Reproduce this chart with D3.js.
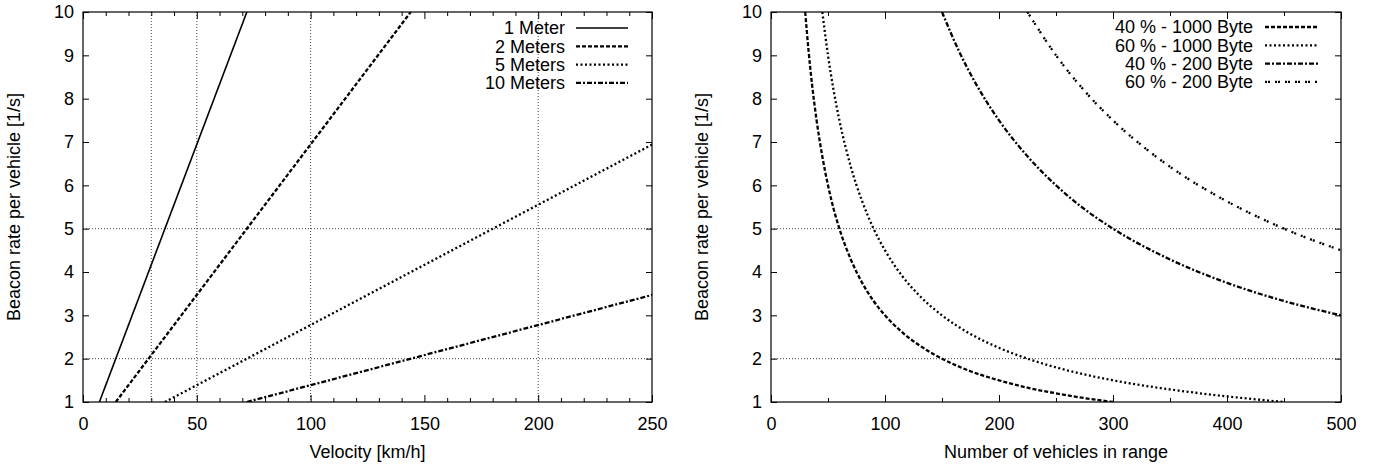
<!DOCTYPE html>
<html>
<head>
<meta charset="utf-8">
<script src="https://cdn.jsdelivr.net/npm/d3@7"></script>
<style>
  body { margin: 0; background: #fff; }
  svg text { font-family: "Liberation Sans", Arial, sans-serif; font-size: 18px; fill: #000; }
</style>
</head>
<body>
<div id="chart"></div>
<script>
// ---- data ----
var velocityTicks = [0, 50, 100, 150, 200, 250];
var vehicleTicks = [0, 100, 200, 300, 400, 500];
var rateTicks = [1, 2, 3, 4, 5, 6, 7, 8, 9, 10];

// left panel: beacon rate vs velocity, straight lines (endpoints)
var meterNames = ["1 Meter", "2 Meters", "5 Meters", "10 Meters"];
var meter1 = [[7.2, 1], [72, 10]];
var meter2 = [[14.4, 1], [144, 10]];
var meter5 = [[36, 1], [250, 6.94]];
var meter10 = [[72, 1], [250, 3.47]];

// right panel: beacon rate vs number of vehicles
var loadNames = ["40 % - 1000 Byte", "60 % - 1000 Byte", "40 % - 200 Byte", "60 % - 200 Byte"];
var n40_1000 = [30, 33, 36, 40, 45, 50, 55, 60, 70, 80, 90, 100, 115, 130, 150, 175, 200, 225, 250, 275, 300];
var r40_1000 = [10, 9.09, 8.33, 7.5, 6.67, 6, 5.45, 5, 4.29, 3.75, 3.33, 3, 2.61, 2.31, 2, 1.71, 1.5, 1.33, 1.2, 1.09, 1];
var n60_1000 = [45, 50, 55, 60, 70, 80, 90, 100, 115, 130, 150, 175, 200, 225, 250, 300, 350, 400, 450];
var r60_1000 = [10, 9, 8.18, 7.5, 6.43, 5.63, 5, 4.5, 3.91, 3.46, 3, 2.57, 2.25, 2, 1.8, 1.5, 1.29, 1.13, 1];
var n40_200 = [150, 165, 180, 200, 225, 250, 275, 300, 350, 400, 450, 500];
var r40_200 = [10, 9.09, 8.33, 7.5, 6.67, 6, 5.45, 5, 4.29, 3.75, 3.33, 3];
var n60_200 = [225, 250, 275, 300, 330, 360, 400, 450, 500];
var r60_200 = [10, 9, 8.18, 7.5, 6.82, 6.25, 5.63, 5, 4.5];

var velGridX = [30, 50, 100, 200];
var rateGridY = [2, 5];

// ---- styles ----
var dashes = ["none", "4,2", "2,2.5", "5,2,2,2"];
var dashesR = ["4,2", "2,2.5", "5,2,2,2", "2,1,2,5"];
var widths = [1.6, 2.3, 2.3, 2.3];

var W = 1376, H = 464;
var plotTop = 12, plotBottom = 402;

var svg = d3.select("#chart").append("svg")
  .attr("width", W)
  .attr("height", H);

function panel(opts) {
  var x = d3.scaleLinear().domain(opts.xDomain).range([opts.x0, opts.x1]);
  var y = d3.scaleLinear().domain([1, 10]).range([plotBottom, plotTop]);
  var g = svg.append("g");

  // grid
  opts.gridX.forEach(function(v) {
    g.append("line")
      .attr("x1", x(v)).attr("x2", x(v))
      .attr("y1", plotTop).attr("y2", plotBottom)
      .attr("stroke", "#444").attr("stroke-width", 1)
      .attr("stroke-dasharray", "1,2");
  });
  rateGridY.forEach(function(v) {
    g.append("line")
      .attr("x1", opts.x0).attr("x2", opts.x1)
      .attr("y1", y(v)).attr("y2", y(v))
      .attr("stroke", "#444").attr("stroke-width", 1)
      .attr("stroke-dasharray", "1,2");
  });

  // axes (ticks point inward, mirrored)
  g.append("g").attr("transform", "translate(0," + plotBottom + ")")
    .call(d3.axisBottom(x).tickValues(opts.xTicks).tickSize(-7).tickPadding(15));
  g.append("g").attr("transform", "translate(0," + plotBottom + ")")
    .call(d3.axisBottom(x).tickValues(opts.xMinor).tickSize(-4).tickFormat(""));
  g.append("g").attr("transform", "translate(0," + plotTop + ")")
    .call(d3.axisTop(x).tickValues(opts.xTicks).tickSize(-7).tickFormat(""));
  g.append("g").attr("transform", "translate(0," + plotTop + ")")
    .call(d3.axisTop(x).tickValues(opts.xMinor).tickSize(-4).tickFormat(""));
  g.append("g").attr("transform", "translate(" + opts.x0 + ",0)")
    .call(d3.axisLeft(y).tickValues(rateTicks).tickSize(-6).tickPadding(9));
  g.append("g").attr("transform", "translate(" + opts.x1 + ",0)")
    .call(d3.axisRight(y).tickValues(rateTicks).tickSize(-6).tickFormat(""));
  g.selectAll(".domain").remove();
  g.selectAll(".tick line").attr("stroke", "#000");
  g.selectAll("g").attr("font-size", null).attr("font-family", null);

  // frame
  g.append("rect")
    .attr("x", opts.x0).attr("y", plotTop)
    .attr("width", opts.x1 - opts.x0).attr("height", plotBottom - plotTop)
    .attr("fill", "none").attr("stroke", "#000").attr("stroke-width", 1.2);

  // titles
  g.append("text")
    .attr("x", (opts.x0 + opts.x1) / 2).attr("y", 458)
    .attr("text-anchor", "middle")
    .text(opts.xTitle);
  g.append("text")
    .attr("transform", "translate(" + opts.yTitleX + "," + (plotTop + plotBottom) / 2 + ") rotate(-90)")
    .attr("text-anchor", "middle")
    .text("Beacon rate per vehicle [1/s]");

  // clip
  var clipId = "clip" + opts.x0;
  svg.append("clipPath").attr("id", clipId).append("rect")
    .attr("x", opts.x0).attr("y", plotTop)
    .attr("width", opts.x1 - opts.x0).attr("height", plotBottom - plotTop);

  var line = d3.line()
    .x(function(d) { return x(d[0]); })
    .y(function(d) { return y(d[1]); })
    .curve(opts.curve);

  opts.series.forEach(function(s, i) {
    g.append("path")
      .datum(s)
      .attr("clip-path", "url(#" + clipId + ")")
      .attr("d", line)
      .attr("fill", "none")
      .attr("stroke", "#000")
      .attr("stroke-width", opts.widths[i])
      .attr("stroke-dasharray", opts.dashes[i]);
  });

  // legend
  opts.names.forEach(function(name, i) {
    var ly = opts.legendY + i * 18.3;
    g.append("text")
      .attr("x", opts.legendTextX).attr("y", ly)
      .attr("dy", "0.35em")
      .attr("text-anchor", "end")
      .text(name);
    g.append("line")
      .attr("x1", opts.legendLine[0]).attr("x2", opts.legendLine[1])
      .attr("y1", ly).attr("y2", ly)
      .attr("stroke", "#000")
      .attr("stroke-width", opts.widths[i])
      .attr("stroke-dasharray", opts.dashes[i]);
  });
}

function zipPts(xs, ys) {
  return xs.map(function(v, i) { return [v, ys[i]]; });
}

panel({
  x0: 83, x1: 652,
  xDomain: [0, 250],
  xTicks: velocityTicks,
  xMinor: d3.range(10, 250, 10).filter(function(v) { return v % 50 !== 0; }),
  gridX: velGridX,
  xTitle: "Velocity [km/h]",
  yTitleX: 20,
  series: [meter1, meter2, meter5, meter10],
  names: meterNames,
  dashes: dashes,
  widths: widths,
  curve: d3.curveLinear,
  legendY: 28,
  legendTextX: 565,
  legendLine: [576, 628]
});

panel({
  x0: 771, x1: 1341,
  xDomain: [0, 500],
  xTicks: vehicleTicks,
  xMinor: [50, 150, 250, 350, 450],
  gridX: [],
  xTitle: "Number of vehicles in range",
  yTitleX: 708,
  series: [zipPts(n40_1000, r40_1000), zipPts(n60_1000, r60_1000), zipPts(n40_200, r40_200), zipPts(n60_200, r60_200)],
  names: loadNames,
  dashes: dashesR,
  widths: [2.3, 2.3, 2.3, 2.3],
  curve: d3.curveMonotoneX,
  legendY: 27,
  legendTextX: 1253,
  legendLine: [1265, 1318]
});
</script>
</body>
</html>
